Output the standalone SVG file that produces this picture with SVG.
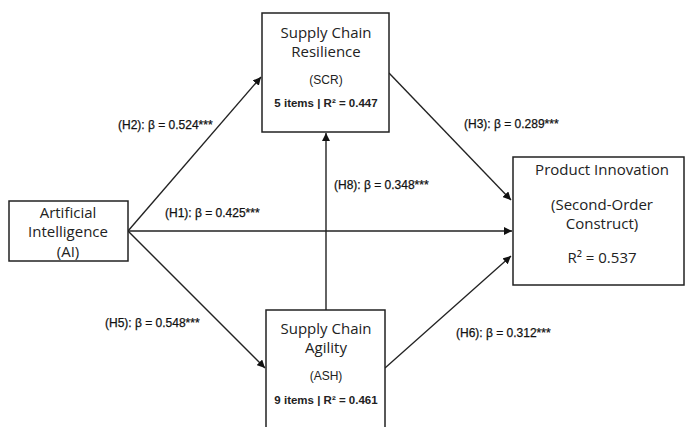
<svg xmlns="http://www.w3.org/2000/svg" width="686" height="427" viewBox="0 0 686 427">
<style>
.box{fill:#fff;stroke:#222;stroke-width:1.5}
.t{font-family:"Open Sans","Noto Sans",sans-serif;font-size:15px;fill:#222;text-anchor:middle}
.s{font-family:"Liberation Sans",Arial,sans-serif;font-size:12px;fill:#222;text-anchor:middle}
.sb{font-family:"Liberation Sans",Arial,sans-serif;font-size:11.5px;font-weight:bold;fill:#222;text-anchor:middle}
.lbl{font-family:"Liberation Sans",Arial,sans-serif;font-size:12px;fill:#111;stroke:#111;stroke-width:0.25}
.c{stroke:#222;stroke-width:1.4;fill:none;marker-end:url(#ah)}
</style>
<defs>
<marker id="ah" viewBox="0 0 10 10" refX="10" refY="5" markerWidth="8" markerHeight="8" markerUnits="userSpaceOnUse" orient="auto">
<path d="M0,0 L10,5 L0,10 z" fill="#111"/>
</marker>
</defs>
<rect width="686" height="427" fill="#fff"/>
<g id="connectors">
<line class="c" x1="128" y1="231" x2="261" y2="77"/>
<line class="c" x1="128" y1="231" x2="512" y2="231"/>
<line class="c" x1="128" y1="231" x2="265" y2="368"/>
<line class="c" x1="389" y1="73" x2="511" y2="200"/>
<line class="c" x1="385" y1="368" x2="511" y2="256"/>
<line class="c" x1="326" y1="310" x2="326" y2="133"/>
<text class="lbl" x="118" y="129">(H2): β = 0.524***</text>
<text class="lbl" x="464" y="128">(H3): β = 0.289***</text>
<text class="lbl" x="165" y="217">(H1): β = 0.425***</text>
<text class="lbl" x="334" y="189">(H8): β = 0.348***</text>
<text class="lbl" x="105" y="327">(H5): β = 0.548***</text>
<text class="lbl" x="456" y="337">(H6): β = 0.312***</text>
</g>
<g id="scr">
<rect class="box" x="262" y="13" width="127" height="119"/>
<text class="t" x="326" y="38">Supply Chain</text>
<text class="t" x="326" y="57">Resilience</text>
<text class="s" x="326" y="84">(SCR)</text>
<text class="sb" x="326" y="107">5 items | R² = 0.447</text>
</g>
<g id="ai">
<rect class="box" x="9" y="201" width="119" height="60"/>
<text class="t" x="68" y="218">Artificial</text>
<text class="t" x="68" y="237">Intelligence</text>
<text class="t" x="68" y="257">(AI)</text>
</g>
<g id="pi">
<rect class="box" x="513" y="157" width="171" height="128"/>
<text class="t" x="602" y="175">Product Innovation</text>
<text class="t" x="602" y="210">(Second-Order</text>
<text class="t" x="602" y="229">Construct)</text>
<text class="t" x="602" y="263">R² = 0.537</text>
</g>
<g id="ash">
<rect class="box" x="266" y="310" width="119" height="130"/>
<text class="t" x="326" y="334">Supply Chain</text>
<text class="t" x="326" y="353">Agility</text>
<text class="s" x="326" y="380">(ASH)</text>
<text class="sb" x="326" y="404">9 items | R² = 0.461</text>
</g>
</svg>
